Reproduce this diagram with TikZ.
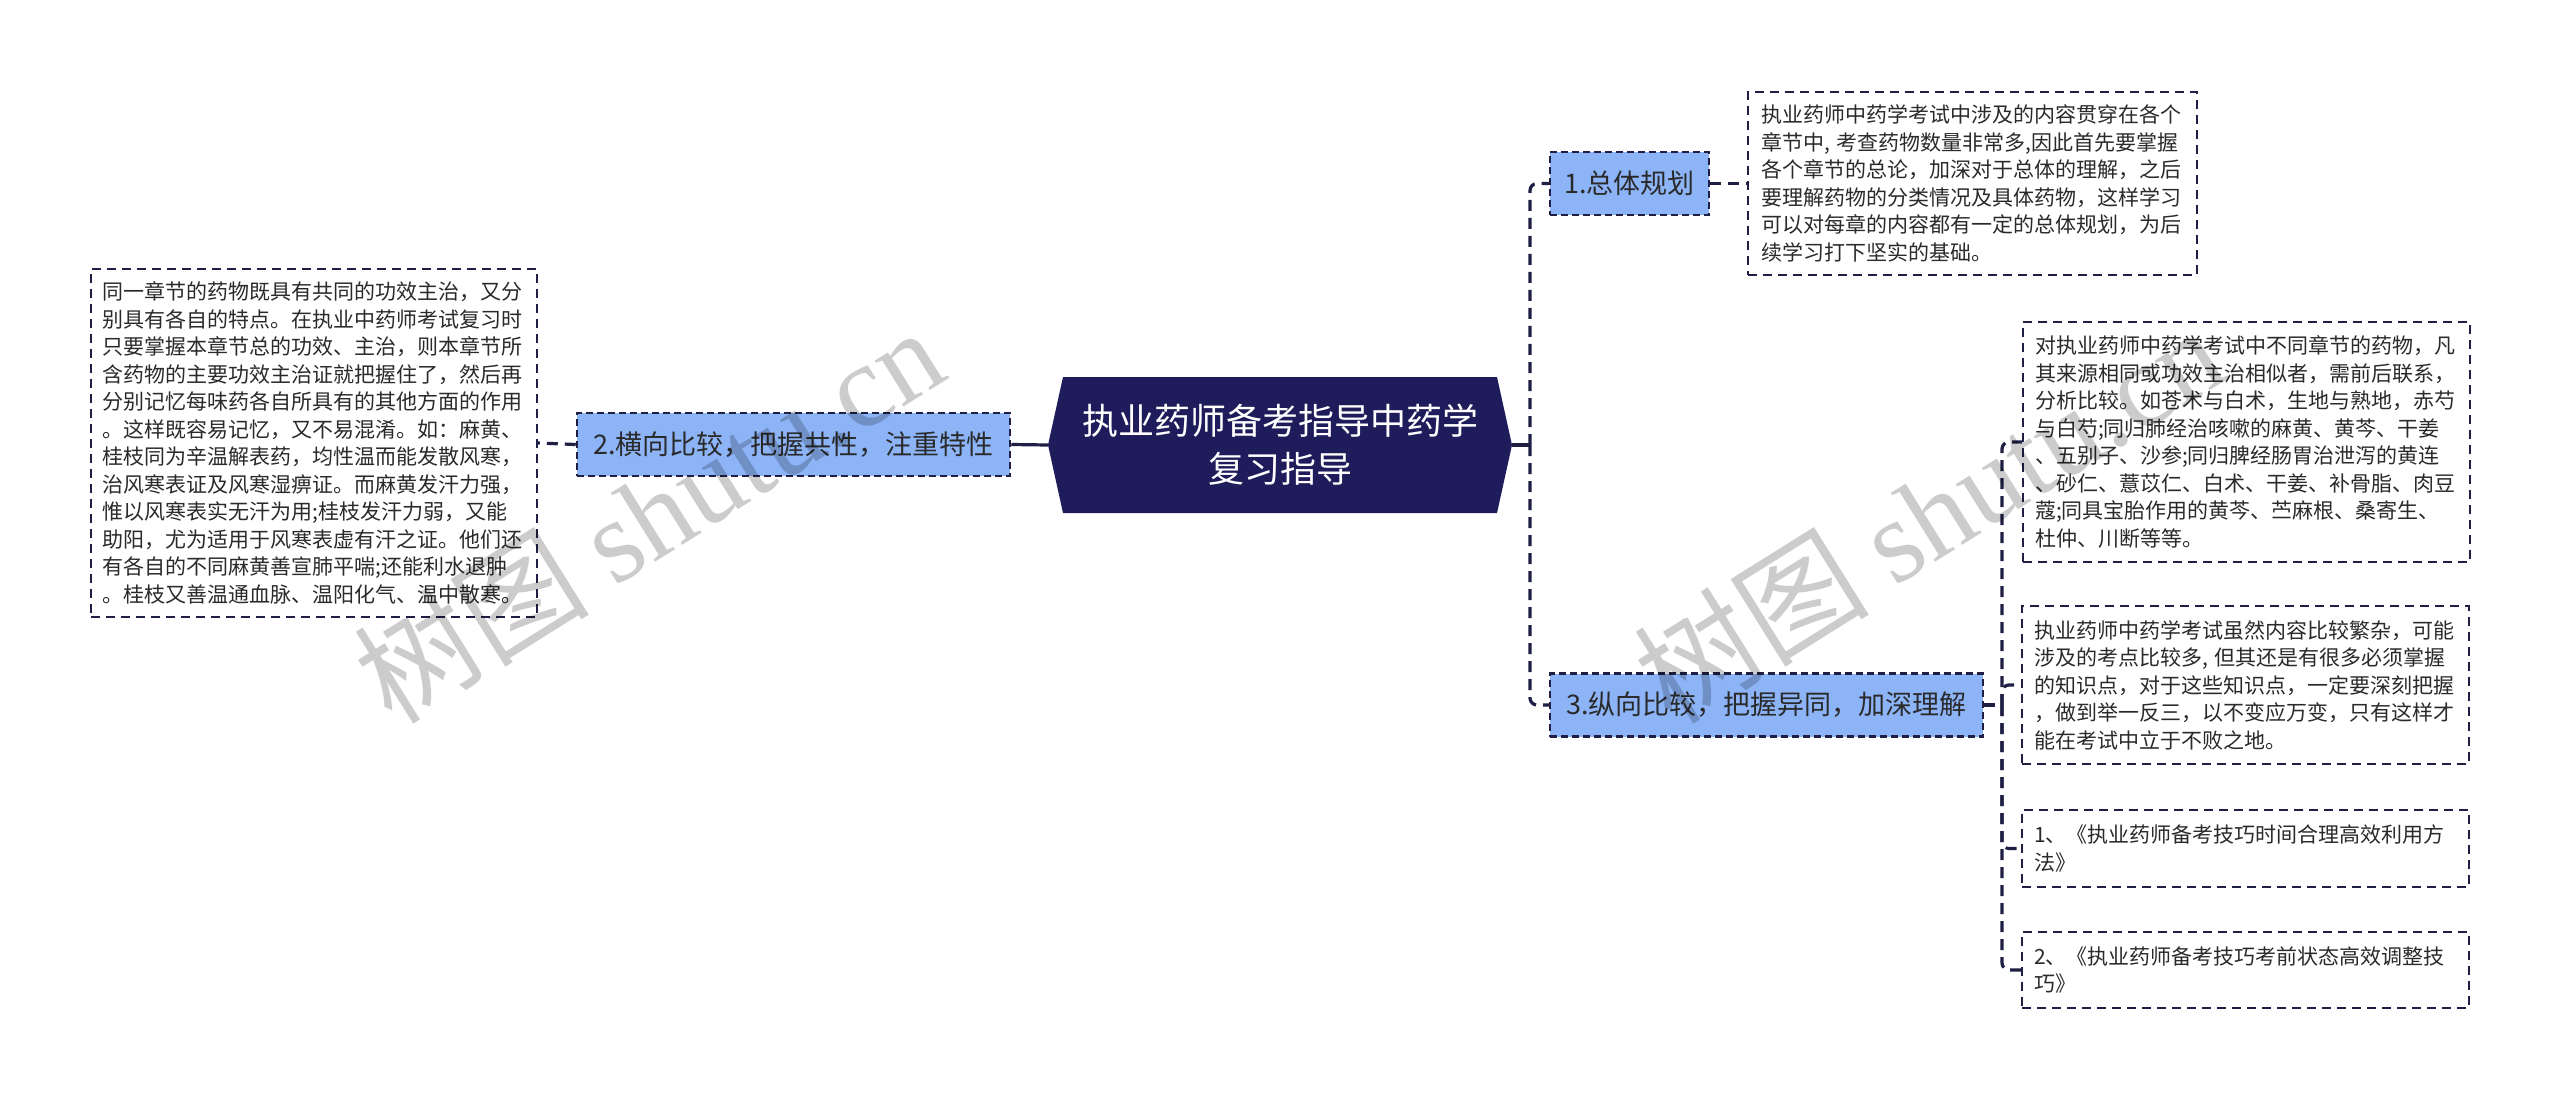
\documentclass[tikz,border=0pt]{standalone}
\usepackage{fontspec}
\setmainfont{Noto Sans CJK SC}
\newfontfamily\wmlatin{Liberation Serif}
\definecolor{rootfill}{HTML}{1E1C5A}
\definecolor{linec}{HTML}{1F1F45}
\definecolor{lblue}{HTML}{8CB4F7}
\definecolor{txtc}{HTML}{2A2A2A}
\begin{document}
\begin{tikzpicture}[x=1pt,y=-1pt,
  txtbox/.style={draw=linec, line width=2pt, dash pattern=on 9pt off 6pt,
    align=left, text width=423pt, inner sep=0pt, text=txtc,
    font=\fontsize{21pt}{27.5pt}\selectfont},
  branch/.style={draw=linec, fill=lblue, line width=2.5pt, dash pattern=on 7pt off 4pt,
    inner sep=0pt, minimum height=63pt, text=txtc,
    font=\fontsize{27pt}{32pt}\selectfont},
  solidc/.style={draw=linec, line width=3.2pt},
  dashc/.style={draw=linec, line width=3.2pt, dash pattern=on 11pt off 7pt, rounded corners=7pt},
  wmark/.style={rotate=32, text=black, opacity=0.2, inner sep=0pt,
    font=\fontsize{118pt}{122pt}\selectfont}
]
\fill[white] (0,0) rectangle (2560,1099);
\useasboundingbox (0,0) rectangle (2560,1099);

% root hexagon
\fill[rootfill] (1048,445) -- (1063,377) -- (1497,377) -- (1512,445) -- (1497,513) -- (1063,513) -- cycle;
\node[minimum width=464pt, minimum height=136pt, inner sep=0pt, text=white, align=center,
  font=\fontsize{36pt}{48pt}\selectfont] (root) at (1280,445) {执业药师备考指导中药学\\复习指导};

% branches
\node[branch, minimum width=159pt] (n1) at (1629.5,183.5) {1.总体规划};
\node[branch, minimum width=433pt] (n2) at (793.5,444.5) {2.横向比较，把握共性，注重特性};
\node[branch, minimum width=433pt] (n3) at (1766.5,705) {3.纵向比较，把握异同，加深理解};

% text boxes
\node[txtbox, minimum width=446pt, minimum height=348pt] (bl) at (314,443) {同一章节的药物既具有共同的功效主治，又分\\别具有各自的特点。在执业中药师考试复习时\\只要掌握本章节总的功效、主治，则本章节所\\含药物的主要功效主治证就把握住了，然后再\\分别记忆每味药各自所具有的其他方面的作用\\。这样既容易记忆，又不易混淆。如：麻黄、\\桂枝同为辛温解表药，均性温而能发散风寒，\\治风寒表证及风寒湿痹证。而麻黄发汗力强，\\惟以风寒表实无汗为用;桂枝发汗力弱，又能\\助阳，尤为适用于风寒表虚有汗之证。他们还\\有各自的不同麻黄善宣肺平喘;还能利水退肿\\。桂枝又善温通血脉、温阳化气、温中散寒。};

\node[txtbox, minimum width=449pt, minimum height=183pt] (b1) at (1972.5,183.5) {执业药师中药学考试中涉及的内容贯穿在各个\\章节中, 考查药物数量非常多,因此首先要掌握\\各个章节的总论，加深对于总体的理解，之后\\要理解药物的分类情况及具体药物，这样学习\\可以对每章的内容都有一定的总体规划，为后\\续学习打下坚实的基础。};

\node[txtbox, minimum width=447pt, minimum height=240pt] (b3a) at (2246.5,442) {对执业药师中药学考试中不同章节的药物，凡\\其来源相同或功效主治相似者，需前后联系，\\分析比较。如苍术与白术，生地与熟地，赤芍\\与白芍;同归肺经治咳嗽的麻黄、黄芩、干姜\\、五别子、沙参;同归脾经肠胃治泄泻的黄连\\、砂仁、薏苡仁、白术、干姜、补骨脂、肉豆\\蔻;同具宝胎作用的黄芩、苎麻根、桑寄生、\\杜仲、川断等等。};

\node[txtbox, minimum width=447pt, minimum height=158pt] (b3b) at (2245.5,685) {执业药师中药学考试虽然内容比较繁杂，可能\\涉及的考点比较多, 但其还是有很多必须掌握\\的知识点，对于这些知识点，一定要深刻把握\\，做到举一反三，以不变应万变，只有这样才\\能在考试中立于不败之地。};

\node[txtbox, minimum width=447pt, minimum height=77pt] (b3c) at (2245.5,848.5) {1、《执业药师备考技巧时间合理高效利用方\\法》};

\node[txtbox, minimum width=447pt, minimum height=76pt] (b3d) at (2245.5,970) {2、《执业药师备考技巧考前状态高效调整技\\巧》};

% connectors
\coordinate (jr) at (1530,445);
\draw[solidc] (root.east) -- (jr);
\draw[dashc] (jr) |- (n1.west);
\draw[dashc] (jr) |- (n3.west);
\draw[solidc] (root.west) -- (n2.east);
\draw[dashc] (n2.west) -- (bl.east);
\draw[dashc] (n1.east) -- (b1.west);
\coordinate (jr3) at (2002,705);
\draw[dashc] (n3.east) -- (jr3);
\draw[dashc] (jr3) |- (b3a.west);
\draw[dashc] (jr3) |- (b3b.west);
\draw[dashc] (jr3) |- (b3c.west);
\draw[dashc] (jr3) |- (b3d.west);

% watermarks
\node[wmark] (wm1) at (648,514) {树图 {\wmlatin shutu.cn}};
\node[wmark] (wm2) at (1928,514) {树图 {\wmlatin shutu.cn}};
\end{tikzpicture}
\end{document}
